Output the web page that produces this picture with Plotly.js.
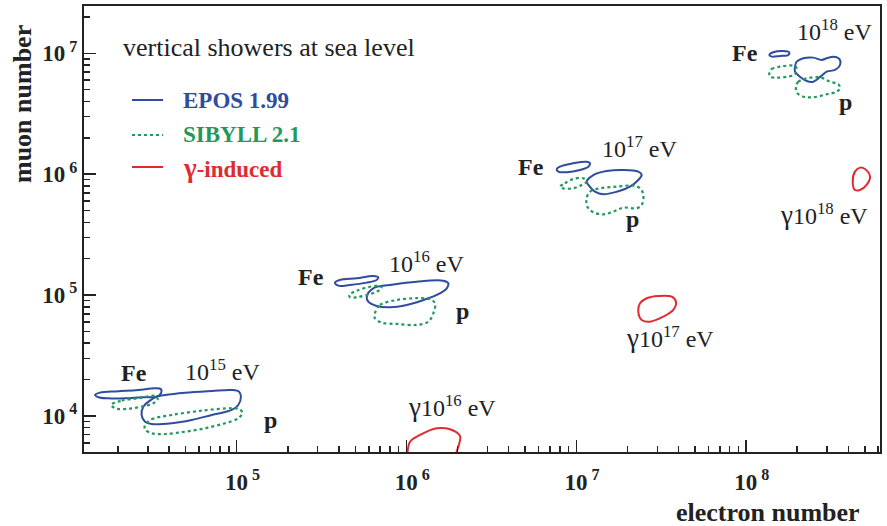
<!DOCTYPE html>
<html><head><meta charset="utf-8">
<script src="https://cdn.plot.ly/plotly-3.0.1.min.js"></script>
<style>html,body{margin:0;padding:0;background:#fff}#chart{width:887px;height:526px}</style>
</head><body><div id="chart"></div>
<script>
// Contours: [log10(electron number), log10(muon number)]
const eposFe15 = [[4.166,4.174],[4.195,4.193],[4.303,4.204],[4.420,4.215],[4.519,4.229],[4.554,4.221],[4.554,4.188],[4.529,4.160],[4.440,4.155],[4.342,4.146],[4.244,4.146],[4.185,4.155]];
const eposP15  = [[4.529,4.160],[4.578,4.174],[4.696,4.193],[4.853,4.207],[4.971,4.215],[5.014,4.201],[5.025,4.160],[5.009,4.091],[4.971,4.050],[4.853,4.008],[4.735,3.967],[4.617,3.940],[4.499,3.934],[4.460,3.953],[4.440,4.008],[4.450,4.077],[4.489,4.127]];
const sibFe15  = [[4.260,4.091],[4.323,4.127],[4.420,4.146],[4.519,4.165],[4.535,4.138],[4.509,4.105],[4.440,4.077],[4.362,4.060],[4.293,4.060]];
const sibP15   = [[4.460,3.926],[4.499,3.973],[4.617,4.008],[4.794,4.044],[4.971,4.064],[5.019,4.055],[5.033,4.022],[5.009,3.981],[4.931,3.940],[4.813,3.898],[4.696,3.870],[4.578,3.851],[4.499,3.857],[4.460,3.890]];

const eposFe16 = [[5.579,5.103],[5.608,5.125],[5.707,5.139],[5.804,5.158],[5.834,5.147],[5.824,5.125],[5.766,5.103],[5.667,5.084],[5.598,5.078]];
const eposP16  = [[5.766,4.987],[5.804,5.056],[5.903,5.084],[6.060,5.111],[6.217,5.119],[6.246,5.098],[6.237,5.056],[6.178,5.001],[6.099,4.959],[6.001,4.918],[5.903,4.899],[5.824,4.910],[5.775,4.945]];
const sibFe16  = [[5.663,5.001],[5.707,5.036],[5.785,5.069],[5.844,5.075],[5.854,5.056],[5.824,5.028],[5.766,5.001],[5.707,4.982],[5.667,4.982]];
const sibP16   = [[5.814,4.849],[5.844,4.918],[5.942,4.959],[6.060,4.974],[6.138,4.965],[6.168,4.932],[6.158,4.849],[6.128,4.780],[6.060,4.753],[5.942,4.761],[5.854,4.772],[5.814,4.808]];

const eposFe17 = [[6.885,6.043],[6.904,6.062],[6.982,6.090],[7.061,6.103],[7.081,6.090],[7.071,6.062],[7.022,6.035],[6.943,6.016],[6.894,6.021]];
const eposP17  = [[7.061,5.938],[7.100,5.993],[7.179,6.026],[7.277,6.035],[7.365,6.021],[7.385,5.993],[7.365,5.952],[7.316,5.897],[7.238,5.855],[7.159,5.834],[7.110,5.855],[7.071,5.911]];
const sibFe17  = [[6.904,5.897],[6.933,5.925],[6.982,5.960],[7.041,5.966],[7.061,5.938],[7.032,5.911],[6.982,5.883],[6.923,5.883]];
const sibP17   = [[7.061,5.801],[7.081,5.855],[7.140,5.883],[7.238,5.897],[7.336,5.905],[7.375,5.883],[7.395,5.828],[7.385,5.745],[7.356,5.718],[7.277,5.723],[7.218,5.690],[7.159,5.668],[7.100,5.685],[7.065,5.731]];

const eposFe18 = [[8.137,6.986],[8.160,7.008],[8.219,7.019],[8.254,7.008],[8.249,6.986],[8.200,6.978],[8.151,6.972]];
const eposP18  = [[8.288,6.889],[8.298,6.931],[8.337,6.959],[8.396,6.964],[8.445,6.945],[8.475,6.959],[8.514,6.972],[8.549,6.953],[8.553,6.903],[8.524,6.862],[8.475,6.848],[8.445,6.815],[8.396,6.765],[8.357,6.771],[8.317,6.806],[8.288,6.848]];
const sibFe18  = [[8.137,6.835],[8.151,6.870],[8.200,6.889],[8.278,6.897],[8.298,6.876],[8.288,6.826],[8.239,6.806],[8.180,6.798],[8.141,6.806]];
const sibP18   = [[8.294,6.724],[8.307,6.765],[8.357,6.793],[8.435,6.801],[8.494,6.765],[8.543,6.744],[8.553,6.710],[8.534,6.682],[8.475,6.661],[8.396,6.636],[8.337,6.641],[8.298,6.677]];

const gamma16 = [[6.005,3.669],[6.021,3.787],[6.080,3.843],[6.178,3.898],[6.256,3.890],[6.315,3.835],[6.311,3.774],[6.286,3.669]]; // cut by the axis
const gamma17 = [[7.365,4.863],[7.375,4.932],[7.415,4.974],[7.483,4.993],[7.562,4.987],[7.587,4.945],[7.571,4.877],[7.512,4.821],[7.434,4.780],[7.385,4.794]];
const gamma18 = [[8.641,6.021],[8.671,6.054],[8.700,6.043],[8.730,5.979],[8.710,5.911],[8.671,5.869],[8.641,5.869],[8.628,5.938]];

const seriesNames = ['EPOS 1.99', 'SIBYLL 2.1', 'γ-induced'];
const xTickVals = [1e5, 1e6, 1e7, 1e8];
const xTickText = ['\u00A0\u00A010<sup> 5</sup>', '\u00A0\u00A010<sup> 6</sup>', '\u00A0\u00A010<sup> 7</sup>', '\u00A0\u00A010<sup> 8</sup>'];
const yTickVals = [1e4, 1e5, 1e6, 1e7];
const yTickText = ['10<sup> 4</sup>', '10<sup> 5</sup>', '10<sup> 6</sup>', '10<sup> 7</sup>'];

const BLUE = '#2f4c9e', GREEN = '#22995a', RED = '#e02a32', INK = '#222';
const SERIF = 'Liberation Serif, Times New Roman, serif';

function build(contours, closed) {
  const x = [], y = [];
  contours.forEach((c, i) => {
    if (i) { x.push(null); y.push(null); }
    const pts = closed ? c.concat([c[0]]) : c;
    pts.forEach(p => { x.push(Math.pow(10, p[0])); y.push(Math.pow(10, p[1])); });
  });
  return {x, y};
}
const e = build([eposFe15, eposP15, eposFe16, eposP16, eposFe17, eposP17, eposFe18, eposP18], true);
const s = build([sibFe15, sibP15, sibFe16, sibP16, sibFe17, sibP17, sibFe18, sibP18], true);
const g1 = build([gamma16], false);
const g2 = build([gamma17, gamma18], true);

const traces = [
  {x: e.x, y: e.y, name: seriesNames[0], mode: 'lines', line: {color: BLUE, width: 2, shape: 'spline', smoothing: 1}, showlegend: false, hoverinfo: 'skip'},
  {x: s.x, y: s.y, name: seriesNames[1], mode: 'lines', line: {color: GREEN, width: 2.2, dash: 'dot', shape: 'spline', smoothing: 1}, showlegend: false, hoverinfo: 'skip'},
  {x: g1.x.concat([null], g2.x), y: g1.y.concat([null], g2.y), name: seriesNames[2], mode: 'lines', line: {color: RED, width: 2, shape: 'spline', smoothing: 1}, showlegend: false, hoverinfo: 'skip'}
];

// pixel -> paper helpers for labels
const L = 84, R = 880, T = 6, B = 452;
const X = px => (px - L) / (R - L);
const Y = py => (B - py) / (B - T);

function txt(t, px, py, size, bold, color, anchor) {
  return {text: t, xref: 'paper', yref: 'paper', x: X(px), y: Y(py), xanchor: anchor || 'center', yanchor: 'middle',
    showarrow: false, font: {family: SERIF, size: size, color: color || INK, weight: bold ? 'bold' : 'normal'}};
}
const G = '<span style="font-size:27px">γ</span>';

const annotations = [
  txt('vertical showers at sea level', 121, 47, 26, false, INK, 'left'),
  txt(seriesNames[0], 181, 101, 23, true, BLUE, 'left'),
  txt(seriesNames[1], 181, 135, 23, true, GREEN, 'left'),
  txt(G + '-induced', 181, 168, 23, true, RED, 'left'),
  txt('Fe', 134, 373, 24, true),
  txt('10<sup>15</sup> eV', 222, 370, 24, false),
  txt('p', 270, 420, 24, true),
  txt('Fe', 311, 277, 24, true),
  txt('10<sup>16</sup> eV', 426, 262, 24, false),
  txt('p', 462, 311, 24, true),
  txt('Fe', 531, 167, 24, true),
  txt('10<sup>17</sup> eV', 639, 147, 24, false),
  txt('p', 632, 219, 24, true),
  txt('Fe', 745, 53, 24, true),
  txt('10<sup>18</sup> eV', 834, 30, 24, false),
  txt('p', 845, 102, 24, true),
  txt(G + '10<sup>18</sup> eV', 824, 214, 24, false),
  txt(G + '10<sup>17</sup> eV', 670, 337, 24, false),
  txt(G + '10<sup>16</sup> eV', 452, 406, 24, false),
  txt('electron number', 768, 512, 26, true),
  Object.assign(txt('muon number', 23, 104, 26, true), {textangle: -90})
];

const shapes = [
  {type: 'line', xref: 'paper', yref: 'paper', x0: X(132), x1: X(163), y0: Y(100), y1: Y(100), line: {color: BLUE, width: 2}},
  {type: 'line', xref: 'paper', yref: 'paper', x0: X(132), x1: X(163), y0: Y(135), y1: Y(135), line: {color: GREEN, width: 2, dash: 'dot'}},
  {type: 'line', xref: 'paper', yref: 'paper', x0: X(132), x1: X(163), y0: Y(167), y1: Y(167), line: {color: RED, width: 2}}
];

const axisCommon = {
  type: 'log', showgrid: false, zeroline: false, showline: true, mirror: true, linewidth: 2, linecolor: INK,
  ticks: 'inside', ticklen: 12, tickwidth: 1.5, tickcolor: INK, tickmode: 'array',
  minor: {ticks: 'inside', ticklen: 6, tickwidth: 1.5, tickcolor: INK, dtick: 'D1', showgrid: false},
  tickfont: {family: SERIF, size: 23, color: INK, weight: 'bold'}
};

const layout = {
  width: 887, height: 526,
  margin: {l: L, r: 887 - R, t: T, b: 526 - B},
  paper_bgcolor: '#fff', plot_bgcolor: '#fff',
  showlegend: false,
  xaxis: Object.assign({}, axisCommon, {range: [4.1007, 8.7886], tickvals: xTickVals, ticktext: xTickText, ticklabelstandoff: 8}),
  yaxis: Object.assign({}, axisCommon, {range: [3.702, 7.391], tickvals: yTickVals, ticktext: yTickText, ticklabelstandoff: 0}),
  annotations: annotations,
  shapes: shapes
};

Plotly.newPlot('chart', traces, layout, {staticPlot: true, displayModeBar: false});
</script></body></html>
